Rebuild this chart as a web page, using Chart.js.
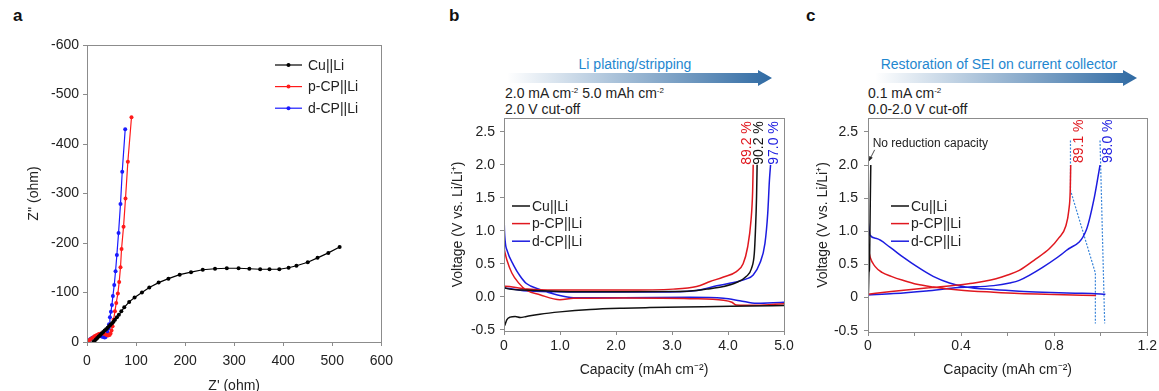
<!DOCTYPE html>
<html>
<head>
<meta charset="utf-8">
<script src="https://cdn.jsdelivr.net/npm/chart.js@4"></script>
<style>
  body { margin: 0; width: 1159px; height: 391px; overflow: hidden; background: #fff;
         font-family: "Liberation Sans", Arial, sans-serif; color: #222; position: relative; }
  canvas { position: absolute; top: 0; }
  .tag { position: absolute; top: 7px; font-weight: bold; font-size: 17px; line-height: 17px; color: #111; }
  .note { position: absolute; top: 85px; font-size: 14px; line-height: 16px; white-space: nowrap; }
  .note sup { font-size: 8px; vertical-align: 5px; line-height: 0; }
  .arrow { position: absolute; top: 70px; height: 16px;
           background: linear-gradient(to right, rgba(47,106,163,0), #2f6aa3);
           clip-path: polygon(0 3px, calc(100% - 14px) 3px, calc(100% - 14px) 0, 100% 50%,
                              calc(100% - 14px) 100%, calc(100% - 14px) 13px, 0 13px); }
  .arrow-label { position: absolute; top: 56px; width: 320px; text-align: center;
                 font-size: 14px; line-height: 16px; color: #1f87cf; }
</style>
</head>
<body>
<div class="tag" style="left:13px">a</div>
<div class="tag" style="left:449px">b</div>
<div class="tag" style="left:806px">c</div>

<div class="arrow-label" style="left:475px">Li plating/stripping</div>
<div class="arrow" style="left:507px;width:265px"></div>
<div class="note" style="left:505px">2.0 mA cm<sup>-2</sup> 5.0 mAh cm<sup>-2</sup><br>2.0 V cut-off</div>

<div class="arrow-label" style="left:839px">Restoration of SEI on current collector</div>
<div class="arrow" style="left:875px;width:262px"></div>
<div class="note" style="left:868px">0.1 mA cm<sup>-2</sup><br>0.0-2.0 V cut-off</div>

<canvas id="nyquist" width="400" height="396" style="left:0px"></canvas>
<canvas id="cycling" width="380" height="391" style="left:430px"></canvas>
<canvas id="restore" width="359" height="391" style="left:800px"></canvas>

<script>
// ---- impedance (Nyquist) ----
const cuRe  = [13, 15, 18, 21, 24, 27, 30, 33, 36, 39, 42, 45, 48, 51, 54, 57, 61, 65, 70, 76, 86, 97, 112, 127, 146, 166, 189, 212, 236, 261, 285, 309, 331, 353, 372, 392, 411, 427, 450, 470, 492, 515];
const cuIm  = [0, -2, -5, -8, -11, -14, -17, -20, -23, -26, -29, -32, -35, -38, -41, -45, -50, -55, -62, -70, -81, -90, -100, -110, -120, -128, -136, -141, -146, -148, -149, -149, -148, -147, -147, -147, -150, -154, -161, -170, -180, -192];
const pcpRe = [2, 5, 8, 12, 16, 20, 24, 28, 32, 36, 40, 43, 46, 48, 50, 52.1, 54.2, 56.9, 59.6, 62.9, 65.6, 68.3, 70.4, 74.5, 78.5, 83.3, 90.7];
const pcpIm = [-1, -4, -6, -9, -12, -14, -16, -17, -17, -16, -14, -13, -14, -17, -23, -32, -45, -62, -79, -98, -121, -151, -188, -233, -290, -364, -454];
const dcpRe = [1, 4, 7, 10, 14, 18, 22, 26, 30, 33, 36, 38, 40, 42, 44, 45, 46.7, 48.8, 50.8, 52.8, 55.5, 58.2, 60.9, 64.3, 68.3, 71.8, 77.9];
const dcpIm = [0, -3, -6, -8, -10, -11, -12, -12, -11, -10, -9, -10, -14, -20, -28, -36, -50, -61, -75, -93, -115, -143, -176, -220, -279, -344, -430];
const reTicks = [0, 100, 200, 300, 400, 500, 600];
const imTicks = [-600, -500, -400, -300, -200, -100, 0];

// ---- Li plating/stripping, 2.0 mA cm-2, 5.0 mAh cm-2 ----
const cuPlateCap  = [0, 0.02, 0.05, 0.11, 0.2, 0.29, 0.4, 0.64, 1.0, 1.54, 2.13, 2.6, 3.2, 3.8, 4.4, 5.0];
const cuPlateV    = [-0.45, -0.42, -0.35, -0.31, -0.30, -0.315, -0.30, -0.265, -0.23, -0.195, -0.175, -0.165, -0.155, -0.148, -0.14, -0.135];
const cuStripCap  = [0, 0.01, 0.03, 0.1, 0.35, 1.0, 2.0, 3.0, 3.32, 3.62, 3.92, 4.15, 4.33, 4.42, 4.47, 4.49, 4.51, 4.52];
const cuStripV    = [0.09, 0.14, 0.13, 0.115, 0.1, 0.08, 0.075, 0.078, 0.085, 0.115, 0.155, 0.215, 0.31, 0.43, 0.66, 1.0, 1.52, 2.0];
const pcpPlateCap = [0, 0.02, 0.05, 0.14, 0.26, 0.4, 0.64, 1.0, 1.24, 2.13, 3.32, 3.92, 4.07, 4.15, 4.51, 5.0];
const pcpPlateV   = [0.74, 0.66, 0.56, 0.36, 0.21, 0.1, 0.03, -0.045, -0.025, -0.02, -0.03, -0.055, -0.085, -0.125, -0.13, -0.105];
const pcpStripCap = [0, 0.02, 0.35, 0.94, 2.13, 3.02, 3.44, 3.68, 3.92, 4.15, 4.27, 4.35, 4.41, 4.44, 4.45];
const pcpStripV   = [0.13, 0.16, 0.12, 0.1, 0.1, 0.115, 0.155, 0.23, 0.3, 0.38, 0.5, 0.75, 1.15, 1.6, 2.0];
const dcpPlateCap = [0, 0.005, 0.02, 0.06, 0.17, 0.29, 0.4, 0.64, 0.94, 1.24, 2.13, 3.32, 3.92, 4.21, 4.51, 4.81, 5.0];
const dcpPlateV   = [1.37, 1.1, 0.85, 0.69, 0.48, 0.31, 0.2, 0.11, 0.03, -0.015, -0.015, -0.01, -0.025, -0.06, -0.1, -0.09, -0.085];
const dcpStripCap = [0, 0.02, 0.35, 0.94, 2.0, 2.73, 3.44, 3.8, 4.1, 4.33, 4.45, 4.57, 4.66, 4.71, 4.74, 4.76];
const dcpStripV   = [0.12, 0.13, 0.09, 0.075, 0.07, 0.07, 0.095, 0.165, 0.215, 0.27, 0.33, 0.51, 0.81, 1.27, 1.77, 2.0];
const capTicksB   = [0, 1, 2, 3, 4, 5];
const capLabelsB  = ['0', '1.0', '2.0', '3.0', '4.0', '5.0'];
const voltTicks   = [-0.5, 0, 0.5, 1.0, 1.5, 2.0, 2.5];
const voltLabelsB = ['-0.5', '0.0', '0.5', '1.0', '1.5', '2.0', '2.5'];
const ceB = ['89.2 %', '90.2 %', '97.0 %'];

// ---- SEI restoration, 0.1 mA cm-2, 0.0-2.0 V ----
const cuSeiCap     = [0, 0.002, 0.004, 0.006, 0.008, 0.01, 0.012];
const cuSeiV       = [0.02, 0.1, 0.38, 0.42, 0.9, 1.5, 2.0];
const pcpRedCap    = [0, 0.01, 0.03, 0.06, 0.1, 0.15, 0.21, 0.28, 0.39, 0.54, 0.65, 0.8, 0.92, 0.98];
const pcpRedV      = [0.77, 0.6, 0.47, 0.38, 0.32, 0.26, 0.2, 0.16, 0.115, 0.08, 0.06, 0.045, 0.035, 0.03];
const pcpOxCap     = [0, 0.1, 0.25, 0.39, 0.45, 0.5, 0.55, 0.6, 0.65, 0.72, 0.78, 0.82, 0.85, 0.863, 0.869, 0.871];
const pcpOxV       = [0.05, 0.09, 0.145, 0.19, 0.215, 0.245, 0.285, 0.34, 0.41, 0.58, 0.74, 0.9, 1.08, 1.32, 1.62, 2.0];
const dcpRedCap    = [0, 0.009, 0.037, 0.094, 0.151, 0.209, 0.28, 0.35, 0.42, 0.54, 0.65, 0.75, 0.89, 0.96, 1.02];
const dcpRedV      = [1.17, 0.94, 0.89, 0.76, 0.61, 0.47, 0.32, 0.22, 0.16, 0.12, 0.095, 0.08, 0.065, 0.06, 0.05];
const dcpOxCap     = [0, 0.11, 0.25, 0.39, 0.54, 0.609, 0.65, 0.752, 0.852, 0.938, 0.973, 0.997];
const dcpOxV       = [0.04, 0.06, 0.1, 0.15, 0.18, 0.22, 0.26, 0.46, 0.71, 1.02, 1.52, 2.0];
const guide1Cap    = [0.870, 0.870, 0.977, 0.977];
const guide1V      = [2.37, 1.62, 0.37, -0.39];
const guide2Cap    = [0.997, 1.017];
const guide2V      = [2.37, -0.39];
const capTicksC    = [0, 0.2, 0.4, 0.6, 0.8, 1.0, 1.2];
const capLabelsC   = ['0', '', '0.4', '', '0.8', '', '1.2'];
const voltLabelsC  = ['-0.5', '0', '0.5', '1.0', '1.5', '2.0', '2.5'];
const ceC = ['89.1 %', '98.0 %'];

const names = ['Cu||Li', 'p-CP||Li', 'd-CP||Li'];

Chart.defaults.font.family = '"Liberation Sans", Arial, sans-serif';
Chart.defaults.font.size = 14;
Chart.defaults.color = '#222';

const frameColor = '#8c8c8c';
const RED = '#e0181f', BLUE = '#1c1ce0', BLACK = '#111';

const pts = (xs, ys) => xs.map((x, i) => ({ x, y: ys[i] }));
// two half-cycles in one dataset, broken by a gap
const cycle = (x1, y1, x2, y2) => pts(x1, y1).concat([{ x: null, y: null }], pts(x2, y2));

// box around the plot area
const framePlugin = {
  id: 'frame',
  afterDraw(chart) {
    const { ctx, chartArea: a } = chart;
    ctx.save();
    ctx.strokeStyle = frameColor;
    ctx.lineWidth = 1;
    ctx.strokeRect(Math.round(a.left) + 0.5, Math.round(a.top) + 0.5,
                   Math.round(a.right - a.left), Math.round(a.bottom - a.top));
    ctx.restore();
  }
};

// legend drawn inside the plot
const boxLegend = {
  id: 'boxLegend',
  afterDraw(chart, args, o) {
    const ctx = chart.ctx;
    let y = o.y;
    ctx.save();
    ctx.font = '14px "Liberation Sans", Arial, sans-serif';
    ctx.textBaseline = 'middle';
    chart.data.datasets.forEach(ds => {
      if (ds.noLegend) return;
      ctx.strokeStyle = ds.borderColor;
      ctx.lineWidth = ds.borderWidth;
      ctx.beginPath();
      ctx.moveTo(o.x, y);
      ctx.lineTo(o.x + o.len, y);
      ctx.stroke();
      if (o.marker) {
        ctx.fillStyle = ds.borderColor;
        ctx.beginPath();
        ctx.arc(o.x + o.len / 2, y, 2, 0, Math.PI * 2);
        ctx.fill();
      }
      ctx.fillStyle = '#222';
      ctx.fillText(ds.label, o.x + o.len + o.gap, y + 1);
      y += o.step;
    });
    ctx.restore();
  }
};

// rotated efficiency labels and the small callout
const notesPlugin = {
  id: 'notes',
  afterDatasetsDraw(chart, args, o) {
    const { ctx, scales: { x, y } } = chart;
    ctx.save();
    (o.labels || []).forEach(l => {
      ctx.save();
      ctx.translate(x.getPixelForValue(l.x), y.getPixelForValue(l.y));
      ctx.rotate(-Math.PI / 2);
      ctx.font = '14px "Liberation Sans", Arial, sans-serif';
      ctx.fillStyle = l.color;
      ctx.textAlign = 'left';
      ctx.textBaseline = 'middle';
      ctx.fillText(l.text, 0, 0);
      ctx.restore();
    });
    if (o.callout) {
      const c = o.callout;
      ctx.font = '12px "Liberation Sans", Arial, sans-serif';
      ctx.fillStyle = '#222';
      ctx.textBaseline = 'middle';
      ctx.fillText(c.text, x.getPixelForValue(c.x), y.getPixelForValue(c.y));
      const x0 = x.getPixelForValue(c.x) + 2, y0 = y.getPixelForValue(c.y) + 6;
      const x1 = x.getPixelForValue(c.tipX), y1 = y.getPixelForValue(c.tipY);
      ctx.strokeStyle = '#222';
      ctx.lineWidth = 0.8;
      ctx.beginPath();
      ctx.moveTo(x0, y0);
      ctx.lineTo(x1, y1);
      ctx.stroke();
      const ang = Math.atan2(y1 - y0, x1 - x0);
      ctx.beginPath();
      ctx.moveTo(x1, y1);
      ctx.lineTo(x1 - 5 * Math.cos(ang - 0.4), y1 - 5 * Math.sin(ang - 0.4));
      ctx.lineTo(x1 - 5 * Math.cos(ang + 0.4), y1 - 5 * Math.sin(ang + 0.4));
      ctx.closePath();
      ctx.fillStyle = '#222';
      ctx.fill();
    }
    ctx.restore();
  }
};

function axis(opts) {
  return {
    type: 'linear',
    min: opts.min, max: opts.max, reverse: !!opts.reverse,
    afterFit: s => { if (s.isHorizontal()) s.height = opts.size; else s.width = opts.size; },
    afterBuildTicks: s => { s.ticks = opts.ticks.map(v => ({ value: v })); },
    grid: { display: true, drawOnChartArea: false, drawTicks: true, tickLength: 4, color: frameColor },
    border: { display: false },
    ticks: {
      padding: opts.pad,
      maxRotation: 0,
      autoSkip: false,
      color: '#222',
      font: { size: 14 },
      callback: (v, i) => opts.labels ? opts.labels[i] : String(v)
    },
    title: { display: true, text: opts.title, color: '#222', font: { size: 14 }, padding: opts.titlePad }
  };
}

function baseOptions(padTop, padRight, scales, extra) {
  return {
    responsive: false,
    animation: false,
    layout: { padding: { top: padTop, right: padRight, left: 0, bottom: 0 } },
    plugins: Object.assign({ legend: { display: false }, tooltip: { enabled: false } }, extra),
    scales
  };
}

// panel a
new Chart(document.getElementById('nyquist'), {
  type: 'line',
  data: {
    datasets: [
      { label: names[0], data: pts(cuRe, cuIm), borderColor: '#000', backgroundColor: '#000' },
      { label: names[1], data: pts(pcpRe, pcpIm), borderColor: '#ff1a1a', backgroundColor: '#ff1a1a' },
      { label: names[2], data: pts(dcpRe, dcpIm), borderColor: '#1a1aff', backgroundColor: '#1a1aff' }
    ].map(d => Object.assign(d, { borderWidth: 1.2, pointRadius: 2, pointBorderWidth: 0, pointBackgroundColor: d.borderColor, tension: 0 }))
  },
  options: baseOptions(45, 18, {
    x: axis({ min: 0, max: 600, ticks: reTicks, size: 54, pad: 7, title: "Z' (ohm)", titlePad: { bottom: 1 } }),
    y: axis({ min: -600, max: 0, reverse: true, ticks: imTicks, size: 87, pad: 4, title: "Z'' (ohm)", titlePad: { top: 26 } })
  }, { boxLegend: { x: 275, y: 65, len: 27, gap: 6, step: 21.6, marker: true } }),
  plugins: [framePlugin, boxLegend]
});

const curve = (label, color, data) => ({
  label, data, borderColor: color, borderWidth: 1.5, pointRadius: 0,
  cubicInterpolationMode: 'monotone', spanGaps: false
});
const guide = data => ({
  label: '', data, noLegend: true, borderColor: '#3b86d9', borderWidth: 1.2,
  borderDash: [2, 1.5], pointRadius: 0, tension: 0
});

// panel b
new Chart(document.getElementById('cycling'), {
  type: 'line',
  data: {
    datasets: [
      curve(names[0], BLACK, cycle(cuPlateCap, cuPlateV, cuStripCap, cuStripV)),
      curve(names[1], RED, cycle(pcpPlateCap, pcpPlateV, pcpStripCap, pcpStripV)),
      curve(names[2], BLUE, cycle(dcpPlateCap, dcpPlateV, dcpStripCap, dcpStripV))
    ]
  },
  options: baseOptions(118, 26, {
    x: axis({ min: 0, max: 5, ticks: capTicksB, labels: capLabelsB, size: 60, pad: 3, title: 'Capacity (mAh cm⁻²)', titlePad: { bottom: 12 } }),
    y: axis({ min: -0.52, max: 2.71, ticks: voltTicks, labels: voltLabelsB, size: 74, pad: 5, title: 'Voltage (V vs. Li/Li⁺)', titlePad: { top: 20 } })
  }, {
    boxLegend: { x: 82, y: 206, len: 18, gap: 2, step: 17.6, marker: false },
    notes: { labels: [
      { x: 4.34, y: 2.0, text: ceB[0], color: RED },
      { x: 4.55, y: 2.0, text: ceB[1], color: BLACK },
      { x: 4.82, y: 2.0, text: ceB[2], color: BLUE }
    ] }
  }),
  plugins: [framePlugin, boxLegend, notesPlugin]
});

// panel c
new Chart(document.getElementById('restore'), {
  type: 'line',
  data: {
    datasets: [
      curve(names[0], BLACK, pts(cuSeiCap, cuSeiV)),
      curve(names[1], RED, cycle(pcpRedCap, pcpRedV, pcpOxCap, pcpOxV)),
      curve(names[2], BLUE, cycle(dcpRedCap, dcpRedV, dcpOxCap, dcpOxV)),
      guide(pts(guide1Cap, guide1V)),
      guide(pts(guide2Cap, guide2V))
    ]
  },
  options: baseOptions(118, 11, {
    x: axis({ min: 0, max: 1.2, ticks: capTicksC, labels: capLabelsC, size: 59, pad: 2, title: 'Capacity (mAh cm⁻²)', titlePad: { bottom: 12 } }),
    y: axis({ min: -0.52, max: 2.71, ticks: voltTicks, labels: voltLabelsC, size: 68, pad: 6, title: 'Voltage (V vs. Li/Li⁺)', titlePad: { top: 15 } })
  }, {
    boxLegend: { x: 91, y: 206, len: 18, gap: 2, step: 17.6, marker: false },
    notes: {
      labels: [
        { x: 0.909, y: 2.03, text: ceC[0], color: RED },
        { x: 1.033, y: 2.03, text: ceC[1], color: BLUE }
      ],
      callout: { text: 'No reduction capacity', x: 0.02, y: 2.32, tipX: 0.004, tipY: 2.06 }
    }
  }),
  plugins: [framePlugin, boxLegend, notesPlugin]
});
</script>
</body>
</html>
